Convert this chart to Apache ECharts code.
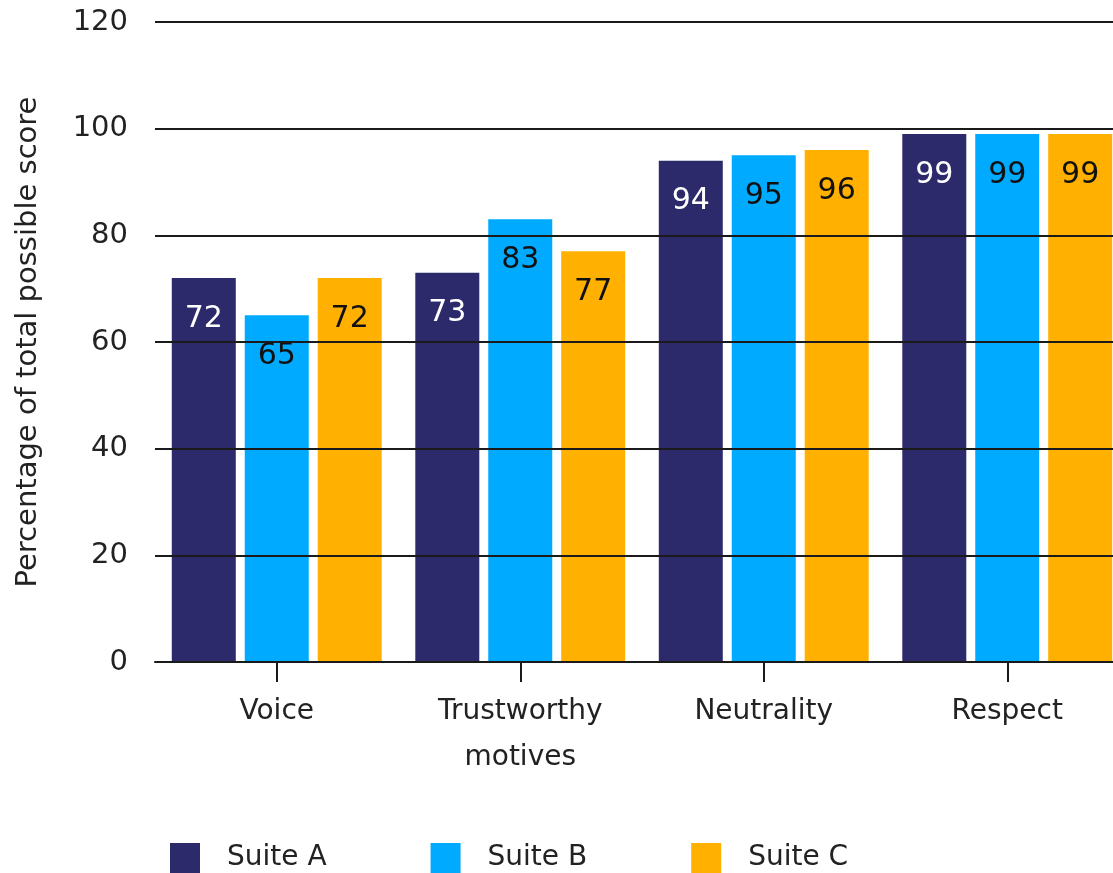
<!DOCTYPE html>
<html><head><meta charset="utf-8">
<script src="https://cdn.jsdelivr.net/npm/echarts@6/dist/echarts.min.js"></script>
<style>html,body{margin:0;padding:0;background:#fff;overflow:hidden}#c{width:1150px;height:873px}</style>
</head><body><div id="c"></div>
<script>
var categories = ['Voice', 'Trustworthy\nmotives', 'Neutrality', 'Respect'];
var seriesNames = ['Suite A', 'Suite B', 'Suite C'];
var suiteA = [72, 73, 94, 99];
var suiteB = [65, 83, 95, 99];
var suiteC = [72, 77, 96, 99];
var yTicks = [0, 20, 40, 60, 80, 100, 120];
var colors = ['#2d2a6b', '#00aaff', '#ffb000'];
var labelColors = ['#ffffff', '#111111', '#111111'];
var FONT = '"DejaVu Sans", sans-serif';

var values = [suiteA, suiteB, suiteC];
var chart = echarts.init(document.getElementById('c'), null, {renderer: 'canvas'});
chart.setOption({
  animation: false,
  color: colors,
  grid: {left: 155, right: 21, top: 22, bottom: 211, containLabel: false},
  legend: {
    top: 843, left: 170, padding: 0,
    itemWidth: 30, itemHeight: 30, itemGap: 104,
    icon: 'rect',
    textStyle: {fontFamily: FONT, fontSize: 28, color: '#222', padding: [0, 0, 0, 22]},
    data: seriesNames
  },
  xAxis: {
    type: 'category', data: categories,
    axisLine: {lineStyle: {color: '#1a1a1a', width: 2}},
    axisTick: {show: true, interval: 0, alignWithLabel: true, length: 20, lineStyle: {color: '#1a1a1a', width: 2}},
    axisLabel: {fontFamily: FONT, fontSize: 28, color: '#222', margin: 27, lineHeight: 46}
  },
  yAxis: {
    type: 'value', min: yTicks[0], max: yTicks[yTicks.length - 1], interval: 20, z: 5,
    name: 'Percentage of total possible score', nameLocation: 'middle', nameGap: 112,
    nameTextStyle: {fontFamily: FONT, fontSize: 29, color: '#222'},
    axisLine: {show: false}, axisTick: {show: false},
    axisLabel: {fontFamily: FONT, fontSize: 29, color: '#222', margin: 27},
    splitLine: {lineStyle: {color: '#1a1a1a', width: 2}}
  },
  series: seriesNames.map(function (n, i) {
    return {
      name: n, type: 'bar', data: values[i],
      barWidth: 64, barGap: '14%',
      itemStyle: {color: colors[i]},
      label: {show: true, position: 'insideTop', distance: 26,
        fontFamily: FONT, fontSize: 30, color: labelColors[i]}
    };
  })
});
</script></body></html>
